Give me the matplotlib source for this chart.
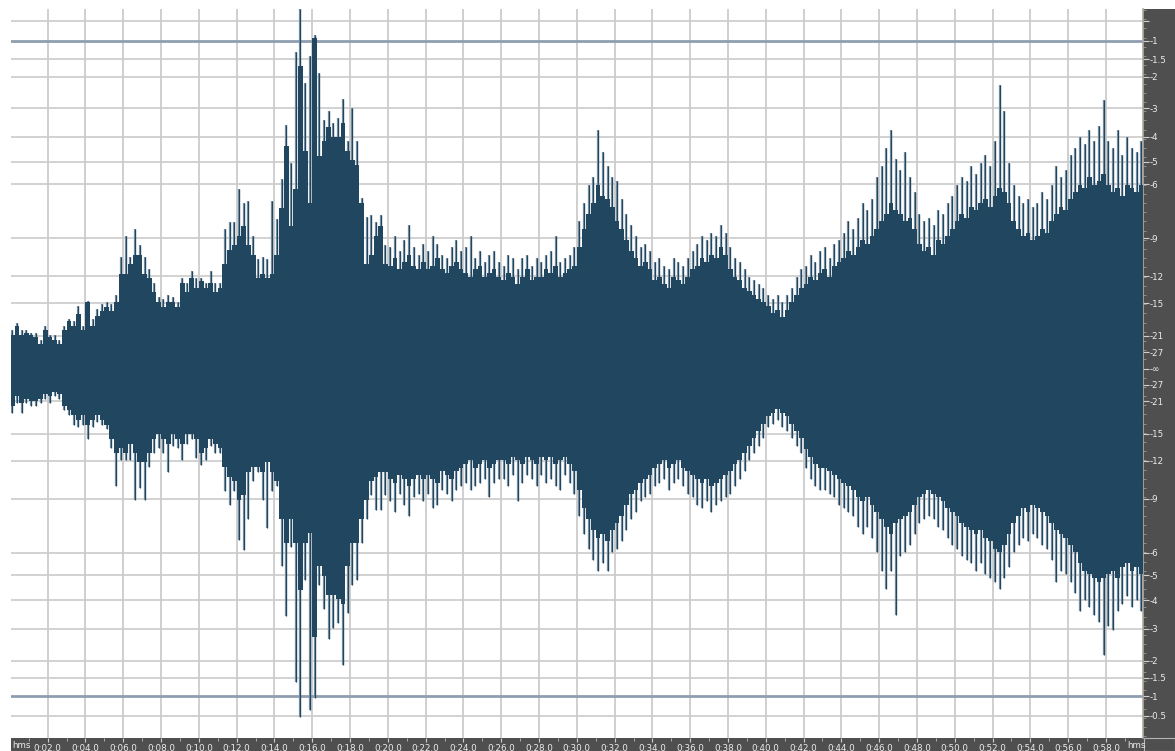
import numpy as np
import matplotlib.pyplot as plt
from matplotlib.patches import Rectangle

# waveform envelope, one value per 0.25 s bin (linear amplitude, full scale = 1)
bin_width = 0.25
upper_body = [
    0.091, 0.117, 0.091, 0.098, 0.091, 0.085, 0.066, 0.104, 0.085, 0.078, 0.066, 0.104, 0.130, 0.117, 0.149, 0.104,
    0.181, 0.117, 0.143, 0.156, 0.168, 0.156, 0.181, 0.258, 0.258, 0.284, 0.310, 0.310, 0.258, 0.245, 0.207, 0.181,
    0.168, 0.181, 0.181, 0.168, 0.233, 0.207, 0.245, 0.220, 0.239, 0.220, 0.233, 0.207, 0.220, 0.284, 0.322, 0.335,
    0.361, 0.387, 0.335, 0.310, 0.245, 0.258, 0.245, 0.258, 0.310, 0.438, 0.605, 0.387, 0.489, 0.823, 0.592, 0.451,
    0.900, 0.579, 0.618, 0.656, 0.631, 0.631, 0.669, 0.592, 0.566, 0.554, 0.451, 0.284, 0.310, 0.361, 0.387, 0.284,
    0.28, 0.30, 0.27, 0.29, 0.31, 0.28, 0.27, 0.29, 0.27, 0.28, 0.30, 0.27, 0.26, 0.28, 0.29, 0.27,
    0.26, 0.25, 0.27, 0.28, 0.25, 0.26, 0.27, 0.25, 0.24, 0.26, 0.25, 0.23, 0.25, 0.27, 0.24, 0.25,
    0.25, 0.27, 0.26, 0.28, 0.25, 0.26, 0.27, 0.28, 0.33, 0.38, 0.42, 0.45, 0.50, 0.47, 0.46, 0.44,
    0.40, 0.38, 0.35, 0.32, 0.30, 0.28, 0.29, 0.27, 0.24, 0.25, 0.23, 0.22, 0.25, 0.24, 0.23, 0.25,
    0.27, 0.28, 0.30, 0.29, 0.31, 0.30, 0.33, 0.31, 0.27, 0.25, 0.24, 0.22, 0.21, 0.20, 0.19, 0.18,
    0.17, 0.15, 0.16, 0.14, 0.16, 0.18, 0.20, 0.22, 0.23, 0.25, 0.24, 0.26, 0.27, 0.25, 0.28, 0.29,
    0.30, 0.32, 0.31, 0.33, 0.35, 0.34, 0.36, 0.38, 0.40, 0.42, 0.45, 0.43, 0.42, 0.40, 0.41, 0.38,
    0.34, 0.32, 0.33, 0.31, 0.35, 0.34, 0.36, 0.38, 0.40, 0.42, 0.41, 0.44, 0.43, 0.45, 0.46, 0.44,
    0.47, 0.49, 0.48, 0.45, 0.40, 0.38, 0.36, 0.37, 0.35, 0.36, 0.38, 0.37, 0.40, 0.42, 0.44, 0.43,
    0.46, 0.48, 0.50, 0.49, 0.52, 0.50, 0.51, 0.53, 0.50, 0.48, 0.49, 0.47, 0.50, 0.49, 0.48, 0.50,
]
upper_peak = [
    0.104, 0.123, 0.104, 0.104, 0.098, 0.098, 0.078, 0.117, 0.091, 0.091, 0.078, 0.117, 0.136, 0.130, 0.171, 0.117,
    0.184, 0.136, 0.162, 0.175, 0.181, 0.175, 0.200, 0.303, 0.361, 0.303, 0.380, 0.335, 0.303, 0.271, 0.233, 0.194,
    0.188, 0.200, 0.194, 0.181, 0.245, 0.233, 0.265, 0.245, 0.245, 0.233, 0.265, 0.233, 0.233, 0.380, 0.399, 0.399,
    0.489, 0.451, 0.457, 0.361, 0.297, 0.303, 0.297, 0.457, 0.406, 0.515, 0.663, 0.560, 0.862, 0.977, 0.778, 0.849,
    0.907, 0.804, 0.676, 0.701, 0.669, 0.682, 0.733, 0.618, 0.708, 0.618, 0.464, 0.412, 0.419, 0.399, 0.419, 0.335,
    0.33, 0.36, 0.32, 0.35, 0.39, 0.33, 0.31, 0.34, 0.32, 0.36, 0.34, 0.31, 0.30, 0.33, 0.35, 0.32,
    0.33, 0.36, 0.30, 0.32, 0.29, 0.31, 0.32, 0.29, 0.28, 0.31, 0.30, 0.27, 0.30, 0.31, 0.28, 0.30,
    0.29, 0.31, 0.32, 0.36, 0.29, 0.30, 0.31, 0.33, 0.40, 0.45, 0.50, 0.52, 0.65, 0.59, 0.55, 0.52,
    0.51, 0.46, 0.42, 0.39, 0.36, 0.33, 0.34, 0.32, 0.29, 0.30, 0.28, 0.27, 0.30, 0.29, 0.28, 0.30,
    0.32, 0.34, 0.36, 0.35, 0.37, 0.36, 0.39, 0.37, 0.33, 0.30, 0.29, 0.27, 0.25, 0.24, 0.23, 0.22,
    0.20, 0.19, 0.20, 0.18, 0.20, 0.22, 0.25, 0.27, 0.28, 0.31, 0.29, 0.32, 0.33, 0.30, 0.34, 0.35,
    0.37, 0.40, 0.38, 0.41, 0.45, 0.43, 0.46, 0.52, 0.55, 0.60, 0.65, 0.57, 0.54, 0.59, 0.52, 0.48,
    0.42, 0.40, 0.41, 0.39, 0.43, 0.42, 0.45, 0.47, 0.50, 0.52, 0.51, 0.55, 0.53, 0.56, 0.58, 0.55,
    0.62, 0.77, 0.70, 0.56, 0.50, 0.47, 0.45, 0.46, 0.44, 0.45, 0.48, 0.46, 0.50, 0.55, 0.52, 0.54,
    0.58, 0.60, 0.63, 0.61, 0.65, 0.62, 0.66, 0.73, 0.62, 0.60, 0.65, 0.58, 0.63, 0.60, 0.59, 0.62,
]
lower_body = [
    -0.101, -0.076, -0.095, -0.082, -0.088, -0.088, -0.082, -0.069, -0.076, -0.063, -0.069, -0.101, -0.114, -0.127, -0.140, -0.127,
    -0.153, -0.140, -0.127, -0.140, -0.153, -0.191, -0.230, -0.217, -0.230, -0.204, -0.230, -0.255, -0.255, -0.230, -0.191, -0.178,
    -0.191, -0.204, -0.178, -0.191, -0.204, -0.178, -0.178, -0.191, -0.230, -0.217, -0.191, -0.204, -0.217, -0.268, -0.294, -0.307,
    -0.358, -0.345, -0.281, -0.268, -0.268, -0.281, -0.255, -0.281, -0.307, -0.409, -0.474, -0.409, -0.474, -0.602, -0.474, -0.448,
    -0.730, -0.538, -0.563, -0.615, -0.615, -0.628, -0.641, -0.538, -0.474, -0.474, -0.409, -0.358, -0.307, -0.294, -0.281, -0.281,
    -0.30, -0.31, -0.29, -0.30, -0.32, -0.30, -0.29, -0.30, -0.29, -0.30, -0.31, -0.28, -0.29, -0.30, -0.28, -0.27,
    -0.26, -0.25, -0.27, -0.26, -0.25, -0.27, -0.26, -0.25, -0.25, -0.26, -0.24, -0.25, -0.26, -0.24, -0.25, -0.26,
    -0.24, -0.25, -0.24, -0.26, -0.25, -0.24, -0.26, -0.28, -0.33, -0.38, -0.41, -0.44, -0.46, -0.45, -0.47, -0.44,
    -0.42, -0.40, -0.37, -0.34, -0.33, -0.31, -0.30, -0.29, -0.27, -0.26, -0.25, -0.27, -0.26, -0.25, -0.27, -0.28,
    -0.29, -0.30, -0.31, -0.30, -0.32, -0.31, -0.30, -0.29, -0.28, -0.26, -0.25, -0.23, -0.21, -0.19, -0.17, -0.15,
    -0.13, -0.12, -0.11, -0.12, -0.13, -0.15, -0.17, -0.19, -0.22, -0.24, -0.26, -0.27, -0.27, -0.28, -0.29, -0.30,
    -0.31, -0.32, -0.33, -0.35, -0.36, -0.35, -0.37, -0.39, -0.41, -0.43, -0.45, -0.42, -0.41, -0.40, -0.39, -0.37,
    -0.35, -0.34, -0.33, -0.34, -0.35, -0.36, -0.38, -0.39, -0.40, -0.42, -0.43, -0.44, -0.45, -0.44, -0.46, -0.47,
    -0.49, -0.50, -0.48, -0.45, -0.42, -0.40, -0.38, -0.39, -0.37, -0.38, -0.39, -0.40, -0.42, -0.44, -0.45, -0.46,
    -0.48, -0.50, -0.53, -0.55, -0.56, -0.57, -0.58, -0.57, -0.56, -0.55, -0.57, -0.54, -0.53, -0.55, -0.54, -0.56,
]
lower_peak = [
    -0.120, -0.095, -0.120, -0.095, -0.101, -0.101, -0.095, -0.082, -0.095, -0.076, -0.082, -0.114, -0.127, -0.153, -0.159, -0.153,
    -0.191, -0.159, -0.146, -0.153, -0.165, -0.217, -0.320, -0.249, -0.249, -0.249, -0.358, -0.326, -0.358, -0.268, -0.230, -0.217,
    -0.230, -0.281, -0.210, -0.217, -0.249, -0.204, -0.191, -0.242, -0.262, -0.249, -0.210, -0.230, -0.230, -0.332, -0.371, -0.332,
    -0.467, -0.493, -0.409, -0.307, -0.281, -0.358, -0.435, -0.332, -0.320, -0.538, -0.673, -0.486, -0.852, -0.949, -0.576, -0.929,
    -0.897, -0.589, -0.653, -0.737, -0.705, -0.692, -0.807, -0.666, -0.589, -0.576, -0.474, -0.409, -0.345, -0.384, -0.384, -0.345,
    -0.36, -0.39, -0.34, -0.37, -0.40, -0.35, -0.34, -0.36, -0.34, -0.38, -0.37, -0.33, -0.34, -0.36, -0.33, -0.32,
    -0.31, -0.33, -0.32, -0.31, -0.30, -0.35, -0.31, -0.30, -0.30, -0.32, -0.29, -0.36, -0.31, -0.29, -0.30, -0.32,
    -0.29, -0.31, -0.30, -0.32, -0.33, -0.29, -0.31, -0.34, -0.40, -0.45, -0.49, -0.52, -0.55, -0.53, -0.55, -0.50,
    -0.49, -0.47, -0.44, -0.41, -0.39, -0.36, -0.35, -0.34, -0.32, -0.31, -0.30, -0.33, -0.31, -0.30, -0.32, -0.34,
    -0.35, -0.37, -0.38, -0.36, -0.39, -0.37, -0.36, -0.35, -0.34, -0.32, -0.30, -0.28, -0.25, -0.23, -0.21, -0.19,
    -0.16, -0.15, -0.14, -0.16, -0.17, -0.19, -0.21, -0.23, -0.27, -0.30, -0.32, -0.33, -0.33, -0.34, -0.35, -0.37,
    -0.38, -0.39, -0.40, -0.43, -0.45, -0.43, -0.46, -0.50, -0.55, -0.60, -0.55, -0.67, -0.51, -0.50, -0.48, -0.45,
    -0.42, -0.41, -0.40, -0.41, -0.43, -0.44, -0.46, -0.48, -0.49, -0.51, -0.52, -0.53, -0.55, -0.53, -0.56, -0.57,
    -0.58, -0.60, -0.57, -0.54, -0.50, -0.48, -0.46, -0.47, -0.45, -0.46, -0.48, -0.49, -0.52, -0.58, -0.55, -0.56,
    -0.58, -0.61, -0.66, -0.63, -0.65, -0.67, -0.69, -0.78, -0.70, -0.71, -0.66, -0.64, -0.62, -0.65, -0.63, -0.66,
]

# right-hand dB scale
db_upper = ["-1", "-1.5", "-2", "-3", "-4", "-5", "-6", "-9", "-12", "-15", "-21", "-27"]
db_lower = ["-27", "-21", "-15", "-12", "-9", "-6", "-5", "-4", "-3", "-2", "-1.5", "-1", "-0.5"]
db_grid = [-0.5, -1.5, -2, -3, -4, -5, -6, -9, -12, -15, -21]
time_ticks = list(range(2, 60, 2))

WAVE = "#21465f"
EDGE = "#7f93a5"
GRID = "#cbcbcb"
PANEL = "#4f4f4f"
W, H = 1175, 751

fig = plt.figure(figsize=(W / 100, H / 100), dpi=100)
fig.patch.set_facecolor("white")
fig.patches.append(Rectangle((1143 / W, 0), 32 / W, 742 / H, transform=fig.transFigure,
                             facecolor=PANEL, edgecolor="none", zorder=-2))
fig.patches.append(Rectangle((11 / W, 0), 1132 / W, 13 / H, transform=fig.transFigure,
                             facecolor=PANEL, edgecolor="none", zorder=-2))
fig.patches.append(Rectangle((1143.5 / W, 0.5 / H), 31 / W, 12.5 / H, transform=fig.transFigure,
                             facecolor=PANEL, edgecolor="#b5b5b5", lw=0.8, zorder=-1))

ax = fig.add_axes([11 / W, 13 / H, 1132 / W, 729 / H])
ax.set_xlim(0.06, 59.96)
ax.set_ylim(-1.005, 0.978)

def amp(db):
    return 10 ** (db / 20.0)

# grid
for s in time_ticks:
    ax.axvline(s, color=GRID, lw=1.3, zorder=1)
for d in db_grid:
    ax.axhline(amp(d), color=GRID, lw=1.2, zorder=1)
    ax.axhline(-amp(d), color=GRID, lw=1.2, zorder=1)
ax.axhline(amp(-1), color="#8e9eb0", lw=2, zorder=1)
ax.axhline(-amp(-1), color="#8e9eb0", lw=2, zorder=1)

# waveform: dense body per bin plus one peak stroke per bin
ub = np.array(upper_body)
lb = np.array(lower_body)
t = np.arange(len(ub)) * bin_width
ax.vlines(t + bin_width / 2, lower_peak, upper_peak, color=EDGE, lw=1.6, zorder=2)
ax.vlines(t + bin_width / 2, lower_peak, upper_peak, color=WAVE, lw=0.9, zorder=3)
ax.bar(t, ub - lb, bottom=lb, width=bin_width, align="edge", color=WAVE, lw=0, zorder=3)

# axes styling
for side in ["left", "top", "bottom"]:
    ax.spines[side].set_visible(False)
ax.spines["right"].set_color("#b0aaa0")
ax.spines["right"].set_linewidth(1.2)

ytick_pos = [amp(-float(v.lstrip("-"))) for v in db_upper] + [0.0] + \
            [-amp(-float(v.lstrip("-"))) for v in db_lower] + [amp(-0.5)]
ytick_lab = db_upper + ["-\u221e"] + db_lower + [""]
ax.yaxis.tick_right()
ax.set_yticks(ytick_pos, ytick_lab)
ax.set_yticks(np.arange(-1.0, 1.0, 0.025), minor=True)
ax.tick_params(axis="y", which="major", direction="out", length=4, width=0.8,
               color="#d0d0d0", labelcolor="#ececec", labelsize=6.3, pad=1)
ax.tick_params(axis="y", which="minor", direction="out", length=2, width=0.6, color="#9a9a9a")

ax.set_xticks(time_ticks, [f"0:{s:02d}.0" for s in time_ticks])
ax.set_xticks(list(range(1, 60, 2)), minor=True)
ax.tick_params(axis="x", which="major", direction="out", length=3, width=0.8,
               color="#d0d0d0", labelcolor="#ececec", labelsize=6.3, pad=1)
ax.tick_params(axis="x", which="minor", direction="out", length=2, width=0.6, color="#bbbbbb")

fig.text(12 / W, 3 / H, "hms", color="#ececec", fontsize=6.3)
fig.text(1127 / W, 3 / H, "hms", color="#ececec", fontsize=6.3)

fig.savefig("out.png", dpi=100)
